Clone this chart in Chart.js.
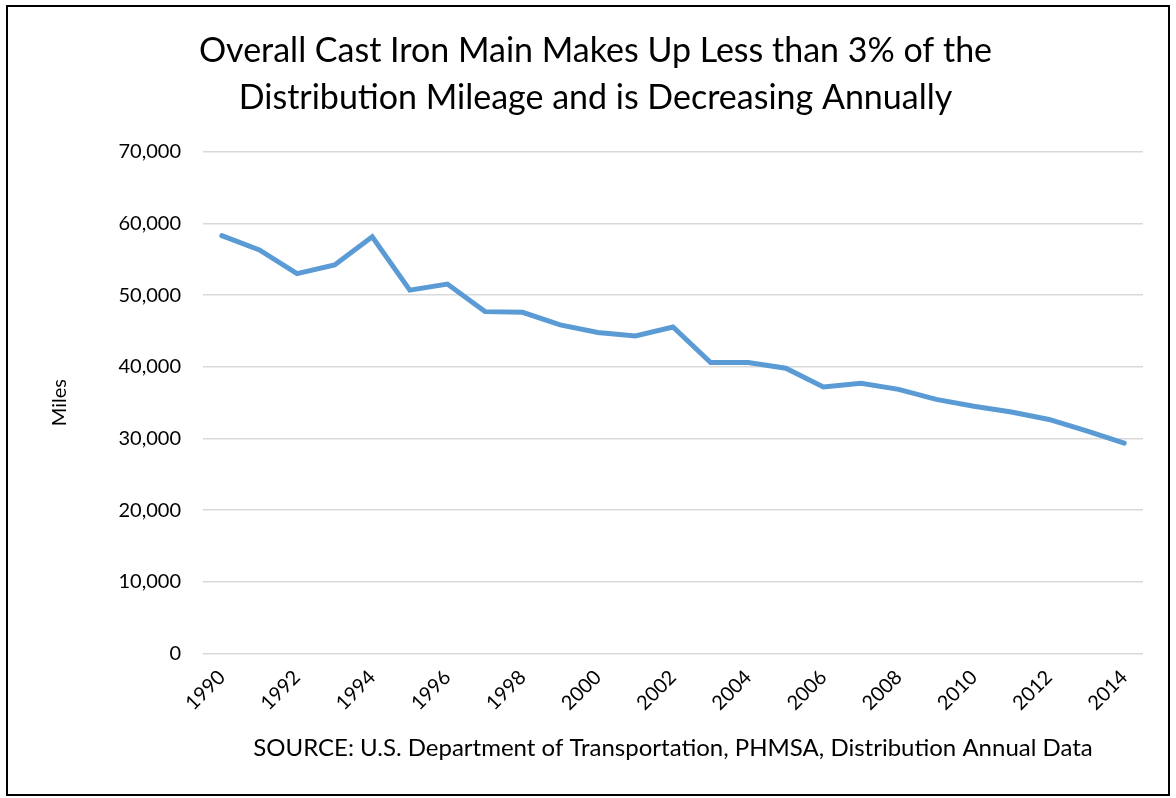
<!DOCTYPE html>
<html>
<head>
<meta charset="utf-8">
<script src="https://cdn.jsdelivr.net/npm/chart.js@4.4.1/dist/chart.umd.min.js"></script>
<style>
  html, body { margin: 0; padding: 0; background: #fff; }
  #wrap { position: relative; width: 1176px; height: 798px; }
  #frame {
    position: absolute; left: 6px; top: 5px; width: 1160px; height: 787px;
    border: 2.5px solid #000; pointer-events: none;
  }
</style>
</head>
<body>
<div id="wrap">
  <canvas id="chart" width="1176" height="798"></canvas>
  <div id="frame"></div>
</div>
<script>
// years on the category axis
const years = [
  '1990', '1991', '1992', '1993', '1994', '1995', '1996', '1997', '1998', '1999',
  '2000', '2001', '2002', '2003', '2004', '2005', '2006', '2007', '2008', '2009',
  '2010', '2011', '2012', '2013', '2014'
];

// cast iron main mileage
const castIronMiles = [
  58300, 56300, 53000, 54200, 58150, 50700, 51550, 47700, 47600, 45850,
  44800, 44300, 45550, 40600, 40600, 39800, 37200, 37700, 36850, 35450,
  34500, 33700, 32650, 31050, 29350
];

const titleLines = [
  'Overall Cast Iron Main Makes Up Less than 3% of the',
  'Distribution Mileage and is Decreasing Annually'
];
const sourceText = 'SOURCE: U.S. Department of Transportation, PHMSA, Distribution Annual Data';

const FONT = "Lato, 'Open Sans', sans-serif";

new Chart(document.getElementById('chart'), {
  type: 'line',
  data: {
    labels: years,
    datasets: [{
      label: 'Cast iron main',
      data: castIronMiles,
      borderColor: '#5b9bd5',
      backgroundColor: '#5b9bd5',
      borderWidth: 5,
      pointRadius: 0,
      tension: 0,
      borderCapStyle: 'round',
      borderJoinStyle: 'miter'
    }]
  },
  options: {
    responsive: false,
    animation: false,
    layout: { padding: { left: 48, right: 33, top: 28, bottom: 35 } },
    plugins: {
      legend: { display: false },
      tooltip: { enabled: false },
      title: {
        display: true,
        text: titleLines,
        color: '#000',
        font: { family: FONT, size: 34, weight: 'normal', lineHeight: 1.38 },
        padding: { top: 0, bottom: 30 }
      }
    },
    scales: {
      x: {
        offset: true,
        grid: { display: false },
        border: { display: false },
        ticks: {
          autoSkip: false,
          maxRotation: 45,
          minRotation: 45,
          color: '#000',
          padding: 4,
          font: { family: FONT, size: 20 },
          callback: function (val, i) { return i % 2 === 0 ? this.getLabelForValue(val) : ''; }
        },
        title: {
          display: true,
          text: sourceText,
          color: '#000',
          font: { family: FONT, size: 24 },
          padding: { top: 15, bottom: 0 }
        }
      },
      y: {
        min: 0,
        max: 70000,
        border: { display: false },
        grid: { color: '#d9d9d9', lineWidth: 1.5, drawTicks: false },
        afterFit: (scale) => { scale.width = 155; },
        ticks: {
          stepSize: 10000,
          color: '#000',
          padding: 22,
          font: { family: FONT, size: 20 },
          callback: (v) => v.toLocaleString('en-US')
        },
        title: {
          display: true,
          text: 'Miles',
          color: '#000',
          font: { family: FONT, size: 20 },
          padding: { top: 0, bottom: 0 }
        }
      }
    }
  }
});
</script>
</body>
</html>
